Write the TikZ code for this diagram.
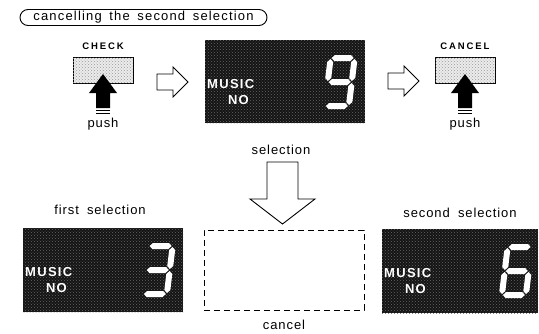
\documentclass[tikz,border=0pt]{standalone}
\usepackage{fontspec}
\setmainfont{Liberation Sans}
\newfontfamily\lblfont[LetterSpace=7,WordSpace=1.8]{Liberation Sans}
\newfontfamily\ttlfont[LetterSpace=9,WordSpace=1.6]{Liberation Sans}
\newfontfamily\capfont[LetterSpace=20]{Liberation Sans}
\newfontfamily\lcdfont[LetterSpace=10]{Liberation Sans}
\usetikzlibrary{patterns}

\newcommand\dgH[3]{\fill[segfill] (#1,#3) -- ({#1+3},{#3-3}) -- ({#2-3},{#3-3}) -- (#2,#3) -- ({#2-3},{#3+3}) -- ({#1+3},{#3+3}) -- cycle;}
\newcommand\dgV[3]{\fill[segfill] (#1,#2) -- ({#1+3},{#2+3}) -- ({#1+3},{#3-3}) -- (#1,#3) -- ({#1-3},{#3-3}) -- ({#1-3},{#2+3}) -- cycle;}
\newcommand\sgA{\dgH{4}{26}{3}}
\newcommand\sgG{\dgH{4}{26}{27}}
\newcommand\sgD{\dgH{4}{26}{51}}
\newcommand\sgF{\dgV{3}{4}{26}}
\newcommand\sgB{\dgV{27}{4}{26}}
\newcommand\sgE{\dgV{3}{28}{50}}
\newcommand\sgC{\dgV{27}{28}{50}}
\newcommand\digitat[3]{\begin{scope}[shift={(#1,#2)},xslant=0.12]#3\end{scope}}

\begin{document}
\begin{tikzpicture}[x=1pt,y=-1pt,
  lbl/.style={font=\fontsize{13}{15}\lblfont, inner sep=0pt},
  btnlbl/.style={font=\fontsize{9.5}{11}\capfont\bfseries, inner sep=0pt},
  lcdtxt/.style={font=\fontsize{13}{14}\lcdfont\bfseries, text=white, inner sep=0pt},
  pill/.style={draw, line width=0.9pt, rounded corners=8pt, minimum width=247pt, minimum height=16pt, inner sep=0pt},
  btnbox/.style={draw, line width=0.9pt, fill=gray!15, minimum width=60pt, minimum height=26pt, inner sep=0pt,
    postaction={pattern=crosshatch dots, pattern color=gray!80}},
  lcd/.style={fill=black!92, anchor=north west, inner sep=0pt,
    postaction={pattern=crosshatch dots, pattern color=black!60}},
  blank/.style={draw, line width=0.9pt, dash pattern=on 6pt off 4pt, minimum width=160pt, minimum height=80pt, inner sep=0pt},
  segfill/.style={fill=white},
  hollow/.style={draw, line width=0.9pt, fill=white, line join=miter},
  pusharr/.pic={
    \fill (0,4) -- (14,23) -- (7,23) -- (7,38) -- (-7,38) -- (-7,23) -- (-14,23) -- cycle;
    \draw[line width=0.8pt] (-7,40.5) -- (7,40.5) (-7,43) -- (7,43);
  },
  rarrow/.pic={
    \draw[hollow] (0,-8) -- (16,-8) -- (16,-15) -- (31,0) -- (16,15) -- (16,8) -- (0,8) -- cycle;
  }]
\fill[white] (0,0) rectangle (539,333);
\useasboundingbox (0,0) rectangle (539,333);

% title
\node[pill, font=\fontsize{13}{15}\ttlfont] (title) at (143.5,17.5) {cancelling the second selection};

% CHECK button
\node[btnlbl] (checklbl) at (103,46) {CHECK};
\node[btnbox] (check) at (103,70) {};
\pic at (check.center) {pusharr};
\node[lbl] (push1) at (103,124) {push};

% arrow 1
\pic at (157,82) {rarrow};

% main display
\node[lcd, minimum width=160pt, minimum height=83pt] (disp) at (205,40) {};
\node[lcdtxt, anchor=west] (m2) at (207,84) {MUSIC};
\node[lcdtxt, anchor=east] (n2) at (249,100) {NO};
\digitat{328}{55}{\sgA\sgB\sgC\sgD\sgF\sgG}

% arrow 2
\pic at (388,81) {rarrow};

% CANCEL button
\node[btnlbl] (cancellbl) at (465,46) {CANCEL};
\node[btnbox] (cancelbtn) at (465,70) {};
\pic at (cancelbtn.center) {pusharr};
\node[lbl] (push2) at (465,124) {push};

% selection down arrow
\node[lbl] (sel) at (281,150) {selection};
\draw[hollow] (267,162) -- (298,162) -- (298,199) -- (315,199) -- (282.5,224) -- (250,199) -- (267,199) -- cycle;

% blank dashed box
\node[blank] (blankbox) at (284,270) {};
\node[lbl] (cancel) at (284,325) {cancel};

% first selection
\node[lbl] (first) at (100,210) {first selection};
\node[lcd, minimum width=160pt, minimum height=84pt] (disp1) at (23,228) {};
\node[lcdtxt, anchor=west] (m1) at (25,272) {MUSIC};
\node[lcdtxt, anchor=east] (n1) at (67,288) {NO};
\digitat{146}{243}{\sgA\sgB\sgC\sgD\sgG}

% second selection
\node[lbl] (second) at (460,213) {second selection};
\node[lcd, minimum width=156pt, minimum height=84pt] (disp3) at (382,229) {};
\node[lcdtxt, anchor=west] (m3) at (384,273) {MUSIC};
\node[lcdtxt, anchor=east] (n3) at (426,289) {NO};
\digitat{505}{244}{\sgA\sgC\sgD\sgE\sgF\sgG}
\end{tikzpicture}
\end{document}
